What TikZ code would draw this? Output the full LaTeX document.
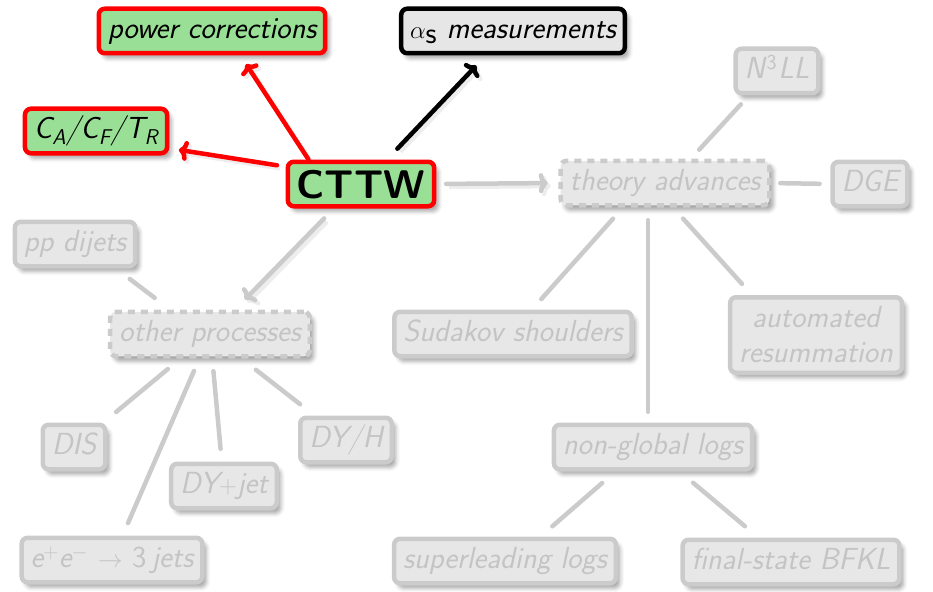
\documentclass[tikz,border=0pt]{standalone}
\usepackage{fontspec}
\usetikzlibrary{shadows.blur,arrows.meta}
\definecolor{leafgreen}{RGB}{153,224,150}
\definecolor{hotred}{RGB}{255,0,0}
\definecolor{boxgray}{RGB}{230,230,230}
\definecolor{fadefill}{RGB}{231,231,231}
\definecolor{fadeline}{RGB}{203,203,203}
\definecolor{fadetext}{RGB}{196,196,196}
\begin{document}
\begin{tikzpicture}[x=1pt,y=-1pt,
  box/.style={rounded corners=6pt, line width=4.5pt, inner xsep=9pt, inner ysep=0pt,
    minimum height=44.5pt, outer sep=0pt, text height=22pt, text depth=7pt,
    font=\fontsize{30.5}{36}\selectfont\sffamily\itshape,
    blur shadow={shadow xshift=4pt, shadow yshift=-5pt, shadow blur radius=4pt, shadow opacity=35}},
  hot/.style={box, draw=hotred, fill=leafgreen, text=black},
  plainbox/.style={box, draw=black, fill=boxgray, text=black},
  faded/.style={box, draw=fadeline, fill=fadefill, text=fadetext},
  fadeddash/.style={faded, dash pattern=on 7pt off 6pt},
  link/.style={line width=4.5pt, line cap=round},
  linkshadow/.style={preaction={draw=black, draw opacity=0.07, line width=4.5pt,
    transform canvas={shift={(3pt,-3pt)}}}},
  tipped/.style={link, linkshadow, -{To[length=9pt,width=20pt]}},
  hotarrow/.style={tipped, draw=hotred},
  darkarrow/.style={tipped, draw=black},
  fadearrow/.style={tipped, draw=fadeline},
  fadelink/.style={link, draw=fadeline}
]
\useasboundingbox (0,0) rectangle (933,591);

% central topic and highlighted results
\node[hot, font=\fontsize{40}{44}\selectfont\sffamily\bfseries, text height=29pt, text depth=1pt] (cttw) at (361,184) {CTTW};
\node[hot] (pc) at (212,31) {power corrections};
\node[hot] (ca) at (96,131) {C\textsubscript{A}/C\textsubscript{F}/T\textsubscript{R}};
\node[plainbox] (alpha) at (513,31) {$\alpha_{\textup{s}}$ measurements};

% theory branch
\node[fadeddash] (theory) at (665,183) {theory advances};
\node[faded] (n3ll) at (777,71) {N\/\textsuperscript{\upshape 3}\kern1pt LL};
\node[faded] (dge) at (870,184) {DGE};
\node[faded] (sud) at (513,334) {Sudakov shoulders};
\node[faded, align=center, minimum height=75.5pt, text height={}, text depth={}, inner ysep=4pt,
  font=\fontsize{30.5}{35}\selectfont\sffamily\itshape] (auto) at (816,335) {automated\\resummation};
\node[faded] (ngl) at (653,447) {non-global logs};
\node[faded] (sl) at (505,561) {superleading logs};
\node[faded] (bfkl) at (791,562) {final-state BFKL};

% process branch
\node[fadeddash] (other) at (210,334) {other processes};
\node[faded] (pp) at (75,244) {pp dijets};
\node[faded] (dis) at (74,447) {DIS};
\node[faded] (dyjet) at (224,486) {DY$+$jet};
\node[faded] (dyh) at (346,440) {DY/H};
\node[faded] (ee) at (112,560) {e\textsuperscript{$+$}e\textsuperscript{$-$} $\to$ {\upshape 3}\,jets};

% arrows out of the centre
\draw[hotarrow, shorten <=3pt, shorten >=13pt] ([xshift=-51pt]cttw.north) -- ([xshift=27pt]pc.south);
\draw[hotarrow, shorten <=11pt, shorten >=12pt] ([yshift=17pt]cttw.west) -- ([yshift=-17pt]ca.east);
\draw[darkarrow, shorten <=18pt, shorten >=17pt] ([xshift=24pt]cttw.north) -- ([xshift=-25pt]alpha.south);
\draw[fadearrow, shorten <=12pt, shorten >=13pt] (cttw.east) -- (theory.west);
\draw[fadearrow, shorten <=17pt, shorten >=17pt] ([xshift=-25pt]cttw.south) -- ([xshift=23pt]other.north);

% theory links
\draw[fadelink, shorten <=15pt, shorten >=15pt] ([xshift=24pt]theory.north) -- ([xshift=-26pt]n3ll.south);
\draw[fadelink, shorten <=11pt, shorten >=13pt] (theory.east) -- (dge.west);
\draw[fadelink, shorten <=18pt, shorten >=17pt] ([xshift=-40pt]theory.south) -- ([xshift=17pt]sud.north);
\draw[fadelink, shorten <=15pt, shorten >=13pt] ([xshift=-17pt]theory.south) -- ([xshift=-5pt]ngl.north);
\draw[fadelink, shorten <=18pt, shorten >=18pt] ([xshift=6pt]theory.south) -- ([xshift=-62pt]auto.north);
\draw[fadelink, shorten <=21pt, shorten >=19pt] ([xshift=-35pt]ngl.south) -- ([xshift=33pt]sl.north);
\draw[fadelink, shorten <=21pt, shorten >=21pt] ([xshift=24pt]ngl.south) -- ([xshift=-30pt]bfkl.north);

% process links
\draw[fadelink, shorten <=21pt, shorten >=23pt] ([xshift=38pt]pp.south) -- ([xshift=-37pt]other.north);
\draw[fadelink, shorten <=20pt, shorten >=20pt] (other) -- (dis);
\draw[fadelink, shorten <=16pt, shorten >=16pt] (other) -- (ee);
\draw[fadelink, shorten <=15pt, shorten >=15pt] (other) -- (dyjet);
\draw[fadelink, shorten <=22pt, shorten >=22pt] (other) -- (dyh);
\end{tikzpicture}
\end{document}
